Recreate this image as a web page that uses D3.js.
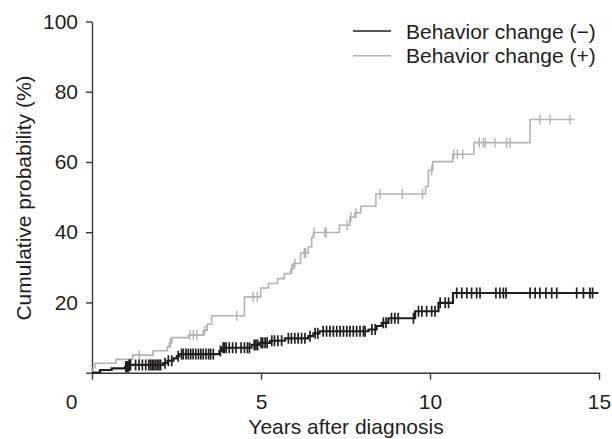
<!DOCTYPE html>
<html>
<head>
<meta charset="utf-8">
<script src="https://cdn.jsdelivr.net/npm/d3@7"></script>
<style>
body { margin: 0; background: #fff; }
svg text { font-family: "Liberation Sans", Arial, sans-serif; fill: #231f20; }
</style>
</head>
<body>
<div id="chart"></div>
<script>
// chart data
var xTicks = [0, 5, 10, 15];
var yTicks = [0, 20, 40, 60, 80, 100];
var seriesNames = ["Behavior change (\u2212)", "Behavior change (+)"];

// Behavior change (-) : step times / cumulative % after step
var negTimes = [0, 0.24, 0.58, 0.98, 1.1, 2.11, 2.23, 2.41, 2.51, 2.58, 3.77, 3.84, 4.72, 4.95, 5.27, 5.71, 6.4, 6.55, 6.73, 8.18, 8.42, 8.57, 8.77, 9.56, 10.25, 10.68];
var negValues = [0, 0.77, 1.25, 1.7, 2.2, 2.7, 3.4, 4.1, 4.7, 5.3, 6.2, 7.1, 7.9, 8.5, 9.1, 9.8, 10.4, 11.2, 11.8, 12.3, 13.3, 14.2, 15.5, 17.5, 19.9, 22.7];
var negEnd = 14.98;
var negCensor = [1.0, 1.02, 1.04, 1.06, 1.08, 1.1, 1.12, 1.14,
	1.29, 1.39, 1.49, 1.59, 1.68, 1.73, 1.78, 1.83, 1.88, 1.93, 1.98, 2.03,
	2.16, 2.26, 2.36, 2.55,
	2.65, 2.7, 2.78, 2.85, 2.92, 2.99, 3.07, 3.15, 3.22, 3.29, 3.37, 3.45, 3.51, 3.59,
	3.8, 3.88, 3.92, 3.97, 4.06, 4.16, 4.26, 4.41, 4.51, 4.6, 4.66,
	4.8, 4.85, 4.9, 5.0, 5.05, 5.12, 5.18,
	5.32, 5.4, 5.5, 5.61, 5.81, 5.9, 6.0, 6.1, 6.2, 6.3,
	6.45, 6.6, 6.68,
	6.84, 6.94, 7.04, 7.14, 7.24, 7.34, 7.44, 7.54, 7.63, 7.73, 7.83, 7.93, 8.03, 8.08,
	8.28, 8.38, 8.62, 8.7, 8.86, 8.96, 9.06, 9.51,
	9.66, 9.76, 9.9, 10.05, 10.15, 10.3, 10.45, 10.55,
	10.79, 10.94, 11.09, 11.23, 11.38, 11.48, 11.95, 12.07, 12.17, 12.25,
	12.96, 13.11, 13.25, 13.43, 13.6, 13.75, 14.34, 14.54, 14.73, 14.81];

// Behavior change (+)
var posTimes = [0, 0.09, 0.71, 1.2, 1.81, 2.23, 2.29, 2.36, 2.85, 3.29, 3.41, 3.54, 4.51, 4.99, 5.22, 5.49, 5.69, 5.88, 5.96, 6.17, 6.4, 6.5, 6.55, 7.32, 7.63, 7.78, 7.95, 8.4, 9.87, 9.95, 10.08, 10.67, 11.3, 12.96];
var posValues = [1.4, 2.7, 3.8, 5.0, 6.25, 7.4, 8.5, 10.0, 10.7, 12.1, 13.8, 16.2, 21.6, 24.1, 25.4, 26.8, 28.2, 29.6, 31.1, 34.1, 35.8, 38.5, 39.9, 42.0, 44.3, 45.5, 47.4, 50.9, 53.0, 57.6, 60.1, 62.2, 65.5, 72.1];
var posEnd = 14.27;
var posCensor = [1.4, 2.32, 2.9, 3.0, 3.1, 3.34, 4.28, 4.77, 4.89, 5.91, 6.0, 6.28, 6.32, 6.57, 6.89, 6.93,
	7.55, 7.66, 7.81, 8.52, 9.18, 9.78, 10.05, 10.7, 10.81, 10.97,
	11.46, 11.58, 11.64, 11.92, 12.27, 12.37, 13.25, 13.55, 14.14];

var W = 612, H = 439;
var ink = "#231f20", grey = "#b3b3b3";

var svg = d3.select("#chart").append("svg")
	.attr("width", W)
	.attr("height", H);

var x = d3.scaleLinear().domain([0, 15]).range([92, 599]);
var y = d3.scaleLinear().domain([0, 100]).range([372.7, 21.5]);

// axes
var xAxis = svg.append("g")
	.attr("transform", "translate(0," + y(0) + ")")
	.call(d3.axisBottom(x).tickValues(xTicks).tickSize(7).tickSizeOuter(0).tickPadding(14));
var yAxis = svg.append("g")
	.attr("transform", "translate(" + x(0) + ",0)")
	.call(d3.axisLeft(y).tickValues(yTicks).tickSize(6).tickSizeOuter(0).tickPadding(8)
		.tickFormat(function(d) { return d === 0 ? "" : d; }));

[xAxis, yAxis].forEach(function(g) {
	g.select(".domain").attr("stroke", "#3a3a3a").attr("stroke-width", 1.4);
	g.selectAll(".tick line").attr("stroke", "#3a3a3a").attr("stroke-width", 1.4);
	g.selectAll(".tick text").attr("font-size", 21).attr("fill", ink)
		.style("font-family", "'Liberation Sans', Arial, sans-serif");
});
// origin label sits left of the corner
xAxis.selectAll(".tick").filter(function(d) { return d === 0; })
	.select("text").attr("x", -21);

// titles
svg.append("text")
	.attr("x", 346).attr("y", 434)
	.attr("text-anchor", "middle")
	.attr("font-size", 21)
	.text("Years after diagnosis");
svg.append("text")
	.attr("transform", "translate(31,198) rotate(-90)")
	.attr("text-anchor", "middle")
	.attr("font-size", 21)
	.text("Cumulative probability (%)");

function stepPoints(times, values, end) {
	var pts = [[0, 0]];
	times.forEach(function(t, i) { pts.push([t, values[i]]); });
	pts.push([end, values[values.length - 1]]);
	return pts;
}
function valueAt(times, values, t) {
	var i = d3.bisectRight(times, t) - 1;
	return i < 0 ? 0 : values[i];
}

var line = d3.line()
	.x(function(d) { return x(d[0]); })
	.y(function(d) { return y(d[1]); })
	.curve(d3.curveStepAfter);

var series = [
	{ name: seriesNames[1], times: posTimes, values: posValues, end: posEnd, censor: posCensor, color: grey, width: 1.6, tick: 1.4, half: 5 },
	{ name: seriesNames[0], times: negTimes, values: negValues, end: negEnd, censor: negCensor, color: ink, width: 2.2, tick: 1.7, half: 5.5 }
];

series.forEach(function(s) {
	var g = svg.append("g");
	g.append("path")
		.datum(stepPoints(s.times, s.values, s.end))
		.attr("fill", "none")
		.attr("stroke", s.color)
		.attr("stroke-width", s.width)
		.attr("d", line);
	g.selectAll(".censor").data(s.censor).enter()
		.append("line")
		.attr("class", "censor")
		.attr("x1", function(d) { return x(d); })
		.attr("x2", function(d) { return x(d); })
		.attr("y1", function(d) { return y(valueAt(s.times, s.values, d)) - s.half; })
		.attr("y2", function(d) { return y(valueAt(s.times, s.values, d)) + s.half; })
		.attr("stroke", s.color)
		.attr("stroke-width", s.tick);
});

// legend
var legend = [
	{ name: seriesNames[0], color: ink, y: 31 },
	{ name: seriesNames[1], color: grey, y: 55.7 }
];
legend.forEach(function(l) {
	svg.append("line")
		.attr("x1", 353).attr("x2", 391)
		.attr("y1", l.y).attr("y2", l.y)
		.attr("stroke", l.color).attr("stroke-width", 1.5);
	svg.append("text")
		.attr("x", 406).attr("y", l.y + 7.5)
		.attr("font-size", 21)
		.text(l.name);
});
</script>
</body>
</html>
